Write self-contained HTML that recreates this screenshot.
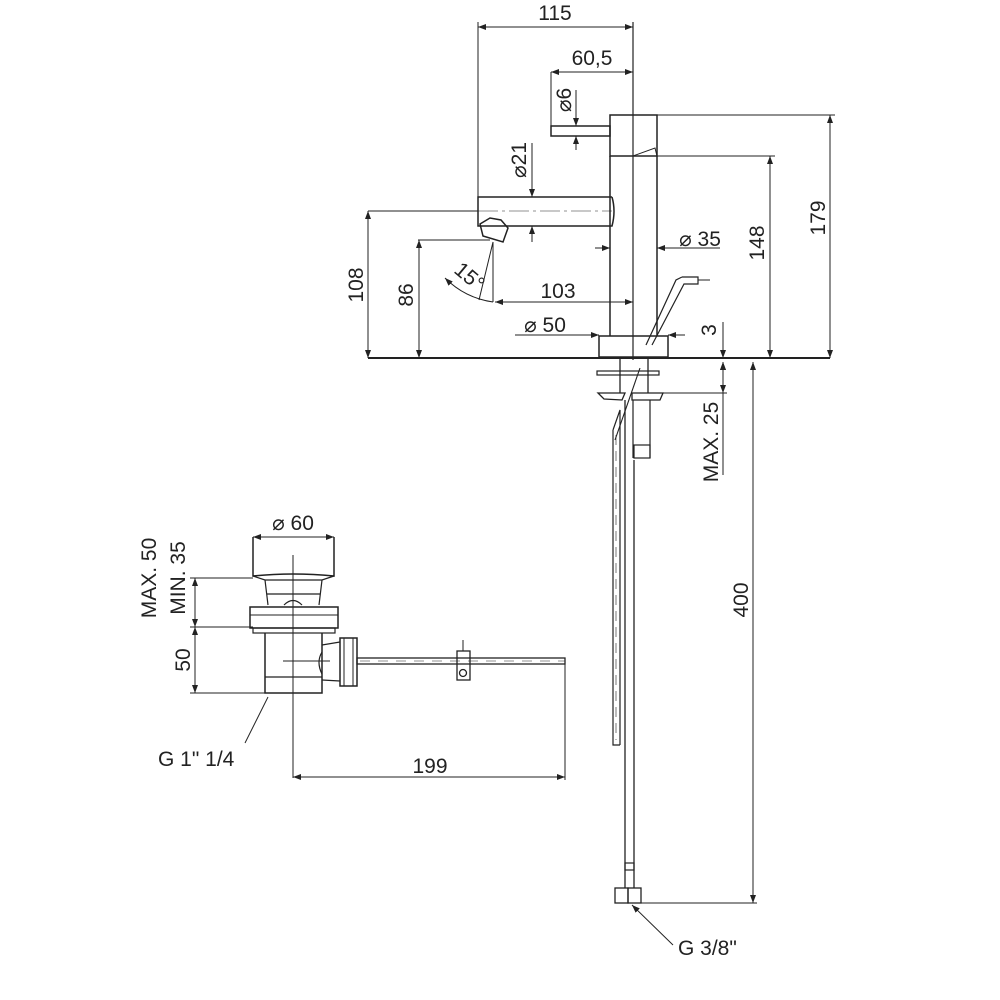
<!DOCTYPE html>
<html><head><meta charset="utf-8"><style>
html,body{margin:0;padding:0;background:#fff;}
svg{display:block;}
text{font-family:"Liberation Sans",Arial,sans-serif;font-size:21px;fill:#222;}
</style></head><body>
<svg width="1000" height="1000" viewBox="0 0 1000 1000" xmlns="http://www.w3.org/2000/svg">
<defs>
<marker id="a" markerWidth="8" markerHeight="6" refX="8" refY="3" orient="auto-start-reverse" markerUnits="userSpaceOnUse"><path d="M0,0 L8,3 L0,6 z" fill="#222"/></marker>
</defs>
<g stroke="#222" fill="none" stroke-width="1">
<!-- faucet dims -->
<line x1="478" y1="27" x2="633" y2="27" marker-start="url(#a)" marker-end="url(#a)"/>
<line x1="478" y1="22" x2="478" y2="226"/>
<line x1="633" y1="22" x2="633" y2="360" stroke-width="1.2"/>
<line x1="551" y1="72" x2="633" y2="72" marker-start="url(#a)" marker-end="url(#a)"/>
<line x1="551" y1="72" x2="551" y2="136"/>
<line x1="576" y1="90" x2="576" y2="126" marker-end="url(#a)"/>
<line x1="576" y1="150" x2="576" y2="136" marker-end="url(#a)"/>
<line x1="532" y1="143" x2="532" y2="197" marker-end="url(#a)"/>
<line x1="532" y1="242" x2="532" y2="226" marker-end="url(#a)"/>
<!-- handle -->
<rect x="610" y="115" width="47" height="41" stroke-width="1.5"/>
<path d="M633,156 L655,148 L657,156" />
<rect x="551" y="126" width="59" height="10" stroke-width="1.5"/>
<!-- body -->
<line x1="610" y1="156" x2="610" y2="336" stroke-width="1.5"/>
<line x1="657" y1="156" x2="657" y2="336" stroke-width="1.5"/>
<!-- spout -->
<path d="M612,197 L478,197 L478,226 L612,226 Q616,211 612,197" stroke-width="1.5"/>
<line x1="478" y1="211" x2="612" y2="211" stroke-dasharray="20,4,3,4" stroke-width="0.6"/>
<path d="M480,224 L490,218 L501,220 L508,228 L503,242 L483,236 Z" stroke-width="1.5"/>
<!-- 108 / 86 -->
<line x1="368" y1="211" x2="478" y2="211"/>
<line x1="368" y1="211" x2="368" y2="358" marker-start="url(#a)" marker-end="url(#a)"/>
<line x1="418" y1="240" x2="490" y2="240"/>
<line x1="419" y1="240" x2="419" y2="358" marker-start="url(#a)" marker-end="url(#a)"/>
<!-- 15 deg -->
<line x1="493" y1="242" x2="493" y2="302"/>
<line x1="493" y1="242" x2="479" y2="300"/>
<path d="M445,278 Q465,298 493,302" marker-start="url(#a)"/>
<line x1="495" y1="302" x2="633" y2="302" marker-start="url(#a)" marker-end="url(#a)"/>
<!-- 35 -->
<line x1="595" y1="248" x2="610" y2="248" marker-end="url(#a)"/>
<line x1="720" y1="248" x2="657" y2="248" marker-end="url(#a)"/>
<!-- 50 -->
<line x1="515" y1="335" x2="599" y2="335" marker-end="url(#a)"/>
<line x1="685" y1="335" x2="668" y2="335" marker-end="url(#a)"/>
<rect x="599" y="336" width="69" height="21" stroke-width="1.5"/>
<!-- lever -->
<path d="M682,277 L698,277 L698,284 L684,284 L652,345" stroke-width="1.2"/>
<path d="M682,277 L676,280 L646,345" stroke-width="1.2"/>
<line x1="698" y1="280" x2="710" y2="280"/>
<!-- counter -->
<line x1="368" y1="358" x2="830" y2="358" stroke-width="2"/>
<!-- 3 -->
<line x1="723" y1="322" x2="723" y2="358" marker-end="url(#a)"/>
<line x1="723" y1="400" x2="723" y2="362" marker-end="url(#a)"/>
<!-- 148 179 -->
<line x1="657" y1="156" x2="775" y2="156"/>
<line x1="770" y1="156" x2="770" y2="358" marker-start="url(#a)" marker-end="url(#a)"/>
<line x1="657" y1="115" x2="835" y2="115"/>
<line x1="830" y1="115" x2="830" y2="358" marker-start="url(#a)" marker-end="url(#a)"/>
<!-- below counter -->
<line x1="620" y1="358" x2="620" y2="393" stroke-width="1.3"/>
<line x1="648" y1="358" x2="648" y2="393" stroke-width="1.3"/>
<rect x="597" y="371" width="62" height="4" stroke-width="1.2"/>
<path d="M598,393 L625,393 L622,400 L604,399 Z" stroke-width="1.3"/>
<path d="M632,393 L663,393 L660,400 L632,400 Z" stroke-width="1.3"/>
<line x1="663" y1="393" x2="727" y2="393"/>
<line x1="723" y1="362" x2="723" y2="393" marker-start="url(#a)" marker-end="url(#a)"/>
<line x1="723" y1="393" x2="723" y2="475"/>
<line x1="633" y1="400" x2="633" y2="458" stroke-width="1.2"/>
<line x1="650" y1="400" x2="650" y2="458" stroke-width="1.2"/>
<rect x="634" y="445" width="16" height="13" stroke-width="1.2"/>
<!-- hoses -->
<path d="M613,430 L620,410 L620,745 M613,430 L613,745 L620,745" stroke-width="1.2"/>
<line x1="616" y1="435" x2="616" y2="740" stroke-dasharray="10,6" stroke-width="0.6"/>
<line x1="615" y1="440" x2="640" y2="368" stroke-width="1.1"/>
<line x1="625" y1="400" x2="625" y2="888" stroke-width="1.3"/>
<line x1="634" y1="460" x2="634" y2="888" stroke-width="1.3"/>
<rect x="625" y="863" width="9" height="7" stroke-width="1.2"/>
<rect x="615" y="888" width="13" height="15" stroke-width="1.3"/>
<rect x="628" y="888" width="13" height="15" stroke-width="1.3"/>
<line x1="641" y1="903" x2="757" y2="903"/>
<line x1="753" y1="362" x2="753" y2="903" marker-start="url(#a)" marker-end="url(#a)"/>
<line x1="673" y1="945" x2="632" y2="905" marker-end="url(#a)"/>
<!-- drain -->
<line x1="253" y1="537" x2="334" y2="537" marker-start="url(#a)" marker-end="url(#a)"/>
<path d="M253,537 L253,576 Q293,572 334,576 L334,537" stroke-width="1.5"/>
<path d="M253,576 L265,580 L322,580 L334,576" stroke-width="1.2"/>
<path d="M265,580 L268,605 M322,580 L319,605 M267,594 L320,594" stroke-width="1.2"/>
<path d="M284,605 Q293,596 302,605" stroke-width="1.2"/>
<rect x="250" y="607" width="88" height="21" stroke-width="1.5"/>
<line x1="250" y1="615" x2="338" y2="615"/>
<rect x="253" y="628" width="82" height="5" stroke-width="1.2"/>
<path d="M265,633 L265,693 L322,693 L322,633" stroke-width="1.5"/>
<line x1="265" y1="677" x2="322" y2="677" stroke-width="1.2"/>
<path d="M322,645 L340,642 M322,680 L340,681 M322,652 Q316,662 322,674" stroke-width="1.2"/>
<rect x="340" y="638" width="17" height="48" stroke-width="1.5"/>
<line x1="344" y1="638" x2="344" y2="686"/>
<line x1="353" y1="638" x2="353" y2="686"/>
<rect x="357" y="658" width="208" height="6" stroke-width="1.3"/>
<line x1="360" y1="661" x2="565" y2="661" stroke-dasharray="10,8" stroke-width="0.5"/>
<rect x="457" y="651" width="13" height="29" stroke-width="1.3"/>
<circle cx="463" cy="673" r="3.5" stroke-width="1.3"/>
<line x1="463" y1="640" x2="463" y2="651"/>
<line x1="293" y1="555" x2="293" y2="778"/>
<line x1="565" y1="664" x2="565" y2="780"/>
<line x1="283" y1="661" x2="330" y2="661"/>
<line x1="293" y1="777" x2="565" y2="777" marker-start="url(#a)" marker-end="url(#a)"/>
<line x1="190" y1="578" x2="253" y2="578"/>
<line x1="190" y1="627" x2="253" y2="627"/>
<line x1="190" y1="693" x2="265" y2="693"/>
<line x1="195" y1="578" x2="195" y2="627" marker-start="url(#a)" marker-end="url(#a)"/>
<line x1="195" y1="627" x2="195" y2="693" marker-start="url(#a)" marker-end="url(#a)"/>
<line x1="245" y1="743" x2="268" y2="697"/>
</g>
<g>
<text x="555" y="20" text-anchor="middle">115</text>
<text x="592" y="65" text-anchor="middle">60,5</text>
<text transform="translate(571,100) rotate(-90)" text-anchor="middle">⌀6</text>
<text transform="translate(526,160) rotate(-90)" text-anchor="middle">⌀21</text>
<text transform="translate(363,285) rotate(-90)" text-anchor="middle">108</text>
<text transform="translate(413,295) rotate(-90)" text-anchor="middle">86</text>
<text transform="translate(465,282) rotate(40)" text-anchor="middle">15°</text>
<text x="558" y="298" text-anchor="middle">103</text>
<text x="700" y="246" text-anchor="middle">⌀ 35</text>
<text x="545" y="332" text-anchor="middle">⌀ 50</text>
<text transform="translate(716,330) rotate(-90)" text-anchor="middle">3</text>
<text transform="translate(764,243) rotate(-90)" text-anchor="middle">148</text>
<text transform="translate(825,218) rotate(-90)" text-anchor="middle">179</text>
<text transform="translate(718,442) rotate(-90)" text-anchor="middle">MAX. 25</text>
<text transform="translate(748,600) rotate(-90)" text-anchor="middle">400</text>
<text x="678" y="955">G 3/8"</text>
<text x="293" y="530" text-anchor="middle">⌀ 60</text>
<text transform="translate(156,578) rotate(-90)" text-anchor="middle">MAX. 50</text>
<text transform="translate(185,578) rotate(-90)" text-anchor="middle">MIN. 35</text>
<text transform="translate(190,660) rotate(-90)" text-anchor="middle">50</text>
<text x="430" y="773" text-anchor="middle">199</text>
<text x="158" y="766">G 1" 1/4</text>
</g>
</svg>
</body></html>
